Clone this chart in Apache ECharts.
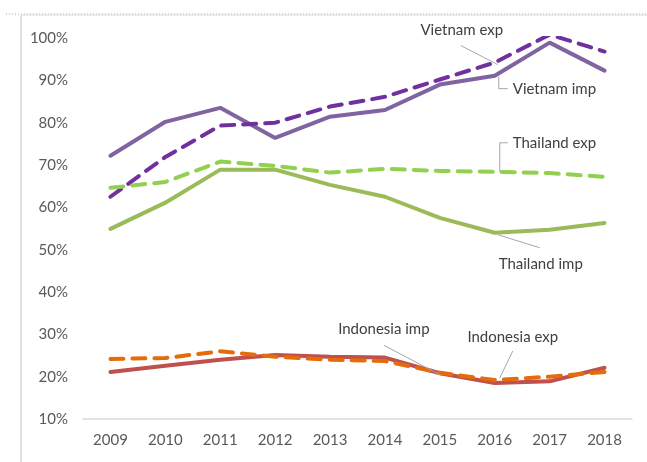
<!DOCTYPE html>
<html>
<head>
<meta charset="utf-8">
<script src="https://cdn.jsdelivr.net/npm/echarts@6/dist/echarts.min.js"></script>
<style>
  html, body { margin: 0; padding: 0; background: #fff; }
  #chart { width: 647px; height: 462px; }
</style>
</head>
<body>
<div id="chart"></div>
<script>
const years = ['2009', '2010', '2011', '2012', '2013', '2014', '2015', '2016', '2017', '2018'];
const vietnamImp = [72.2, 80.2, 83.5, 76.4, 81.4, 83.0, 89.0, 91.1, 98.9, 92.3];
const vietnamExp = [62.5, 71.9, 79.3, 80.0, 83.8, 86.1, 90.2, 94.2, 100.8, 96.8];
const thailandExp = [64.6, 66.0, 70.8, 69.8, 68.2, 69.1, 68.6, 68.4, 68.1, 67.2];
const thailandImp = [54.9, 61.1, 68.9, 68.9, 65.3, 62.5, 57.5, 54.0, 54.7, 56.3];
const indonesiaImp = [21.1, 22.6, 24.0, 25.1, 24.7, 24.5, 20.8, 18.5, 18.9, 22.1];
const indonesiaExp = [24.2, 24.4, 26.0, 24.7, 24.0, 23.7, 20.9, 19.2, 20.0, 21.1];

// label text, series index, year index of the point it points at
const notes = [
  { text: 'Vietnam exp', s: 1, i: 7 },
  { text: 'Vietnam imp', s: 0, i: 7 },
  { text: 'Thailand exp', s: 2, i: 7 },
  { text: 'Thailand imp', s: 3, i: 7 },
  { text: 'Indonesia imp', s: 4, i: 6 },
  { text: 'Indonesia exp', s: 5, i: 7 }
];

const font = 'Lato, Open Sans, Liberation Sans, sans-serif';
const chart = echarts.init(document.getElementById('chart'));

function lineSeries(name, data, color, dashed) {
  return {
    name: name,
    type: 'line',
    data: data,
    symbol: 'none',
    smooth: false,
    clip: true,
    lineStyle: {
      color: color,
      width: 4,
      type: dashed ? [13, 9] : 'solid',
      cap: 'round'
    }
  };
}

const option = {
  animation: false,
  textStyle: { fontFamily: font },
  grid: { left: 83, right: 15, top: 38, bottom: 43 },
  xAxis: {
    type: 'category',
    data: years,
    boundaryGap: true,
    axisLine: { lineStyle: { color: '#D9D9D9', width: 1.5 } },
    axisTick: { show: false },
    axisLabel: { color: '#595959', fontSize: 15, margin: 14 }
  },
  yAxis: {
    type: 'value',
    min: 10,
    max: 100,
    interval: 10,
    axisLine: { show: false },
    axisTick: { show: false },
    splitLine: { show: false },
    axisLabel: { color: '#595959', fontSize: 15, margin: 15, formatter: '{value}%' }
  },
  series: [
    lineSeries('Vietnam imp', vietnamImp, '#8064A2', false),
    lineSeries('Vietnam exp', vietnamExp, '#7030A0', true),
    lineSeries('Thailand exp', thailandExp, '#92D050', true),
    lineSeries('Thailand imp', thailandImp, '#9BBB59', false),
    lineSeries('Indonesia imp', indonesiaImp, '#C0504D', false),
    lineSeries('Indonesia exp', indonesiaExp, '#E46C0A', true)
  ]
};
chart.setOption(option);

// annotation leader lines + labels, anchored on the data points
const allData = [vietnamImp, vietnamExp, thailandExp, thailandImp, indonesiaImp, indonesiaExp];
const elems = [];
const lineStyle = { stroke: '#A6A6A6', lineWidth: 1, fill: null };
const textStyle = { fill: '#404040', fontSize: 15, fontFamily: font };
notes.forEach(function (n, k) {
  const p = chart.convertToPixel({ seriesIndex: n.s }, [n.i, allData[n.s][n.i]]);
  let pts, tx, ty, align = 'left';
  if (k === 0) { pts = [[p[0] + 3, p[1] + 2], [p[0] - 34, p[1] - 17]]; tx = p[0] - 33; ty = p[1] - 32; align = 'center'; }
  if (k === 1) { pts = [[p[0] + 4, p[1] + 1], [p[0] + 4, p[1] + 13], [p[0] + 13, p[1] + 13]]; tx = p[0] + 18; ty = p[1] + 13; }
  if (k === 2) { pts = [[p[0] + 5, p[1]], [p[0] + 5, p[1] - 29], [p[0] + 13, p[1] - 29]]; tx = p[0] + 18; ty = p[1] - 29; }
  if (k === 3) { pts = [[p[0] + 3, p[1] + 2], [p[0] + 45, p[1] + 15]]; tx = p[0] + 46; ty = p[1] + 31; align = 'center'; }
  if (k === 4) { pts = [[p[0] + 1, p[1] + 2], [p[0] - 56, p[1] - 28]]; tx = p[0] - 56; ty = p[1] - 44; align = 'center'; }
  if (k === 5) { pts = [[p[0] + 5, p[1] - 2], [p[0] + 18, p[1] - 29]]; tx = p[0] + 18; ty = p[1] - 43; align = 'center'; }
  elems.push({ type: 'polyline', shape: { points: pts }, style: lineStyle, z: 100 });
  elems.push({
    type: 'text', x: tx, y: ty,
    style: Object.assign({ text: n.text, textAlign: align, textVerticalAlign: 'middle' }, textStyle),
    z: 100
  });
});

// frame remnants from the source slide
elems.push({ type: 'line', shape: { x1: 6, y1: 14, x2: 647, y2: 14 }, style: { stroke: '#D99694', lineWidth: 1, lineDash: [1, 2] } });
elems.push({ type: 'line', shape: { x1: 21, y1: 15, x2: 647, y2: 15 }, style: { stroke: '#D9D9D9', lineWidth: 1 } });
elems.push({ type: 'line', shape: { x1: 21, y1: 15, x2: 21, y2: 462 }, style: { stroke: '#D9D9D9', lineWidth: 1.5 } });

chart.setOption({ graphic: { elements: elems } });
</script>
</body>
</html>
